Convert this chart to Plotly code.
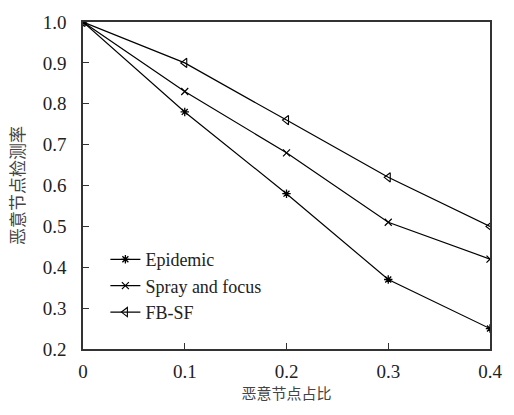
import plotly.graph_objects as go

x_vals = [0, 0.1, 0.2, 0.3, 0.4]
epidemic = [1.0, 0.78, 0.58, 0.37, 0.25]
spray = [1.0, 0.83, 0.68, 0.51, 0.42]
fbsf = [1.0, 0.90, 0.76, 0.62, 0.50]
x_ticks = [0, 0.1, 0.2, 0.3, 0.4]
x_ticktext = ["0", "0.1", "0.2", "0.3", "0.4"]
y_ticks = [0.2, 0.3, 0.4, 0.5, 0.6, 0.7, 0.8, 0.9, 1.0]
y_ticktext = ["0.2", "0.3", "0.4", "0.5", "0.6", "0.7", "0.8", "0.9", "1.0"]

SERIF = "Times New Roman, Liberation Serif, serif"
CJK = "Noto Sans CJK SC"

fig = go.Figure()
fig.add_trace(go.Scatter(x=x_vals, y=epidemic, name="Epidemic", mode="lines+markers",
                         line=dict(color="black", width=1.2),
                         marker=dict(symbol="asterisk-open", size=7, color="black",
                                     line=dict(color="black", width=1.3))))
fig.add_trace(go.Scatter(x=x_vals, y=spray, name="Spray and focus", mode="lines+markers",
                         line=dict(color="black", width=1.2),
                         marker=dict(symbol="x-thin-open", size=7, color="black",
                                     line=dict(color="black", width=1.2))))
fig.add_trace(go.Scatter(x=x_vals, y=fbsf, name="FB-SF", mode="lines+markers",
                         line=dict(color="black", width=1.2),
                         marker=dict(symbol="triangle-left-open", size=8, color="black",
                                     line=dict(color="black", width=1.1))))

fig.update_layout(
    width=514, height=415,
    margin=dict(l=83, r=14, t=19, b=66),
    paper_bgcolor="white", plot_bgcolor="white",
    font=dict(family=SERIF, size=19, color="black"),
    showlegend=True,
    legend=dict(x=0.055, y=0.33, xanchor="left", yanchor="top",
                bgcolor="rgba(0,0,0,0)", font=dict(family=SERIF, size=18, color="#222"),
                itemwidth=30, tracegroupgap=0),
    xaxis=dict(range=[0, 0.4], tickvals=x_ticks, ticktext=x_ticktext,
               ticks="inside", ticklen=6, tickcolor="#333", showgrid=False, zeroline=False,
               showline=True, linecolor="#333", linewidth=1.5, mirror=True,
               tickfont=dict(family=SERIF, size=19, color="#222"), ticklabelstandoff=4,
               title=dict(text="恶意节点占比", font=dict(family=CJK, size=15, color="#444"), standoff=8)),
    yaxis=dict(range=[0.2, 1.0], tickvals=y_ticks, ticktext=y_ticktext,
               ticks="inside", ticklen=6, tickcolor="#333", showgrid=False, zeroline=False,
               showline=True, linecolor="#333", linewidth=1.5, mirror=True,
               tickfont=dict(family=SERIF, size=19, color="#222"), ticklabelstandoff=11,
               title=dict(text="恶意节点检测率", font=dict(family=CJK, size=17, color="#444"), standoff=14)),
)

fig.write_html("out.html")
